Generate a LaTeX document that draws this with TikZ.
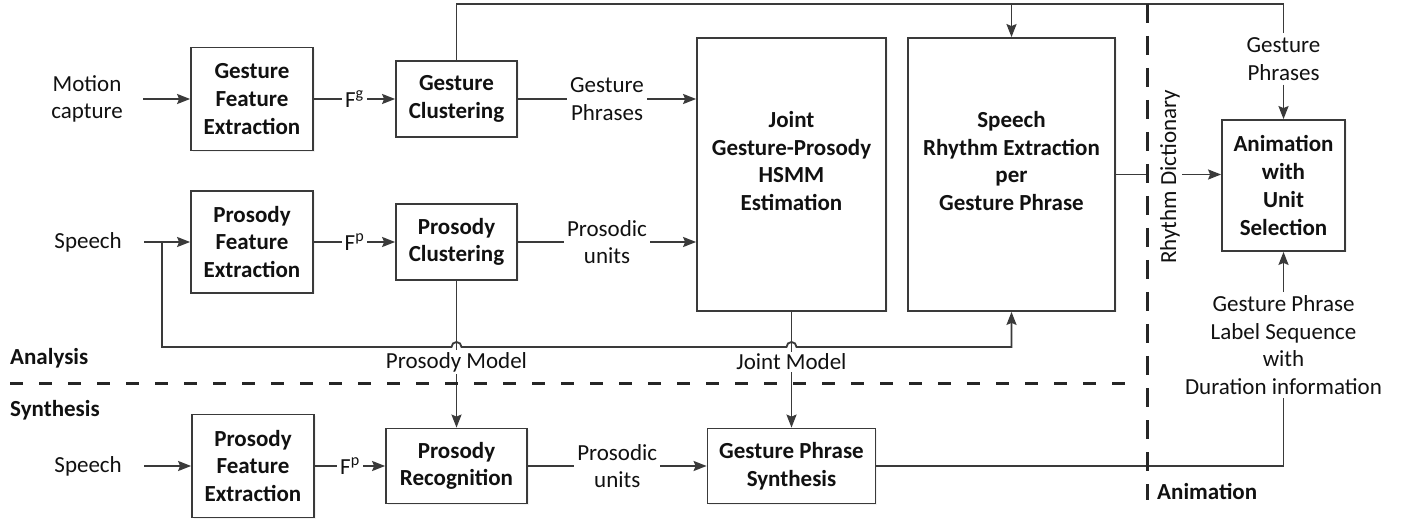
\documentclass[tikz,border=0pt]{standalone}
\usepackage{fontspec}
\setmainfont{Carlito}
\usetikzlibrary{arrows.meta,shadows,calc}
\definecolor{linegray}{HTML}{3A3A3A}
\definecolor{txtcol}{HTML}{111111}

\begin{document}
\begin{tikzpicture}[x=1pt,y=-1pt,
  font=\fontsize{23}{27.7}\selectfont,
  every node/.style={text=txtcol},
  boldtxt/.style={font=\fontsize{23}{27.7}\selectfont\bfseries},
  wire/.style={draw=linegray, line width=1.8pt},
  arr/.style={wire, -{Stealth[length=13pt,width=10pt,inset=2pt]}},
  blk/.style={draw=linegray, line width=1.8pt, fill=white, align=center,
    boldtxt, inner sep=0pt,
    drop shadow={shadow xshift=1.5pt, shadow yshift=-1.5pt, fill=black!10}},
  lbl/.style={align=center, inner sep=2pt},
  tag/.style={fill=white, align=center, inner xsep=3pt, inner ysep=1pt},
  dshh/.style={line width=3pt, draw=black!85, dash pattern=on 13pt off 16pt},
  dshv/.style={line width=3pt, draw=black!85, dash pattern=on 19pt off 13pt},
]
\useasboundingbox (0,0) rectangle (1406,521);

% analysis blocks
\node[blk, minimum width=122pt, minimum height=103pt] (gfe) at (252,99) {Gesture\\Feature\\Extraction};
\node[blk, minimum width=121pt, minimum height=76pt] (gc) at (456.5,99) {Gesture\\Clustering};
\node[blk, minimum width=122pt, minimum height=102pt] (pfe) at (252,242) {Prosody\\Feature\\Extraction};
\node[blk, minimum width=121pt, minimum height=76pt] (pc) at (456.5,242) {Prosody\\Clustering};
\node[blk, minimum width=189pt, minimum height=273pt] (jb) at (791.5,174.5) {};
\node[boldtxt, align=center, inner sep=0pt] (jbt) at (791.5,161) {Joint\\Gesture-Prosody\\HSMM\\Estimation};
\node[blk, minimum width=207pt, minimum height=273pt] (sr) at (1011.5,174.5) {};
\node[boldtxt, align=center, inner sep=0pt] (srt) at (1011.5,161) {Speech\\Rhythm Extraction\\per\\Gesture Phrase};
\node[blk, minimum width=123pt, minimum height=131pt] (anim) at (1283.5,185.5) {Animation\\with\\Unit\\Selection};

% synthesis blocks
\node[blk, minimum width=122pt, minimum height=103pt] (pfe2) at (253,466) {Prosody\\Feature\\Extraction};
\node[blk, minimum width=141pt, minimum height=75pt] (pr) at (456.5,466) {Prosody\\Recognition};
\node[blk, minimum width=168pt, minimum height=75pt] (gps) at (791.5,466) {Gesture Phrase\\Synthesis};

% inputs
\node[lbl, anchor=east, inner xsep=20pt] (mc) at (143,99) {Motion\\capture};
\node[lbl, anchor=east, inner xsep=22pt] (sp1) at (144,242) {Speech};
\node[lbl, anchor=east, inner xsep=22pt] (sp2) at (144,466) {Speech};

\draw[arr] (mc.east) -- (gfe.west);
\draw[arr] (sp1.east) -- (pfe.west);
\draw[arr] (sp2.east) -- (pfe2.west);

% feature and unit flows
\draw[arr] (gfe.east) -- node[tag]{F\textsuperscript{g}} (gc.west);
\draw[arr] (pfe.east) -- node[tag]{F\textsuperscript{p}} (pc.west);
\draw[arr] (pfe2.east) -- node[tag]{F\textsuperscript{p}} (pr.west);
\draw[arr] (gc.east) -- node[tag]{Gesture\\Phrases} (gc.east -| jb.west);
\draw[arr] (pc.east) -- node[tag]{Prosodic\\units} (pc.east -| jb.west);
\draw[arr] (pr.east) -- node[tag]{Prosodic\\units} (gps.west);

% gesture phrases along the top
\coordinate (ttop) at (0,4);
\node[lbl, inner ysep=4pt] (gpl) at (1283.5,59) {Gesture\\Phrases};
\draw[wire] (gc.north) |- (ttop -| gpl.north) -- (gpl.north);
\draw[arr] (ttop -| sr.north) -- (sr.north);
\draw[arr] (gpl.south) -- (anim.north);

% models passed to synthesis
\node[lbl] (pm) at (456.5,362) {Prosody Model};
\node[lbl] (jm) at (791.5,362) {Joint Model};
\draw[wire] (pc.south) -- (pm.north);
\draw[wire] (jb.south) -- (jm.north);
\draw[arr] (pm.south) -- (pr.north);
\draw[arr] (jm.south) -- (gps.north);

% speech to rhythm extraction, hopping over the model lines
\coordinate (j1) at (162,242);
\coordinate (hy) at (0,347);
\draw[arr] (j1) |- ($(pc.south |- hy)+(-5,0)$)
  arc[start angle=180, end angle=0, radius=5pt]
  -- ($(jb.south |- hy)+(-5,0)$)
  arc[start angle=180, end angle=0, radius=5pt]
  -| (sr.south);

% rhythm dictionary
\coordinate (vtop) at (1147,4);
\coordinate (vbot) at (1147,500);
\draw[wire] (sr.east) -- (sr.east -| vtop);
\node[lbl, rotate=90] (rd) at (1170,177) {Rhythm Dictionary};
\draw[arr] (rd.south |- sr.east) -- (sr.east -| anim.west);

% label sequence from synthesis
\node[lbl, inner ysep=3pt] (gpd) at (1283.5,345) {Gesture Phrase\\Label Sequence\\with\\Duration information};
\draw[arr] (gpd.north) -- (anim.south);
\draw[wire] (gps.east) -| (gpd.south);

% stage separators
\draw[dshh] (10,383) -- (1141,383);
\draw[dshv] (vtop) -- (vbot);
\node[boldtxt, anchor=west, inner sep=0pt] (lan) at (10,358) {Analysis};
\node[boldtxt, anchor=west, inner sep=0pt] (lsy) at (10,410) {Synthesis};
\node[boldtxt, anchor=west, inner sep=0pt] (lam) at (1157,491) {Animation};
\end{tikzpicture}
\end{document}
